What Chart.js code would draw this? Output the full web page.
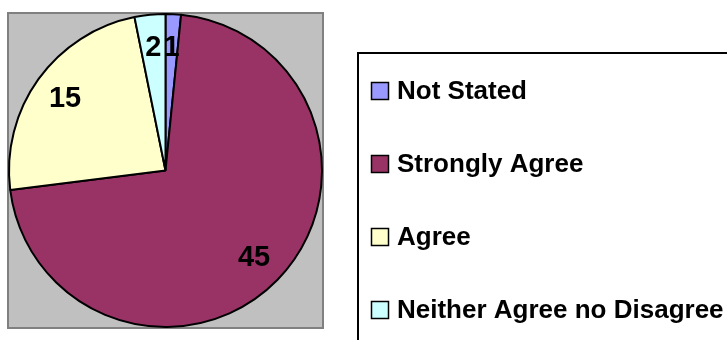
<!DOCTYPE html>
<html>
<head>
<meta charset="utf-8">
<script src="https://cdn.jsdelivr.net/npm/chart.js@4/dist/chart.umd.min.js"></script>
<style>
	html, body { margin: 0; padding: 0; background: #fff; }
	#wrap { width: 727px; height: 340px; position: relative; overflow: hidden; }
</style>
</head>
<body>
<div id="wrap"><canvas id="myChart" width="727" height="340"></canvas></div>
<script>
var categories = ['Not Stated', 'Strongly Agree', 'Agree', 'Neither Agree no Disagree'];
var responses = [1, 45, 15, 2];
var sliceColors = ['#9999FF', '#993366', '#FFFFCC', '#CCFFFF'];

var FONT = '"Liberation Sans", Arial, sans-serif';

// gray plot area behind the pie
var plotArea = {
	id: 'plotArea',
	beforeDraw: function(chart){
		var a = chart.chartArea;
		var ctx = chart.ctx;
		ctx.save();
		ctx.fillStyle = '#C0C0C0';
		ctx.fillRect(a.left, a.top, a.right - a.left, a.bottom - a.top);
		ctx.strokeStyle = '#808080';
		ctx.lineWidth = 2;
		ctx.strokeRect(a.left, a.top, a.right - a.left, a.bottom - a.top);
		ctx.restore();
	}
};

// value labels inside each slice
var sliceLabels = {
	id: 'sliceLabels',
	afterDatasetsDraw: function(chart){
		var ctx = chart.ctx;
		var meta = chart.getDatasetMeta(0);
		ctx.save();
		ctx.font = 'bold 29px ' + FONT;
		ctx.fillStyle = '#000';
		ctx.textAlign = 'center';
		ctx.textBaseline = 'middle';
		meta.data.forEach(function(arc, i){
			var p = arc.getProps(['x', 'y', 'startAngle', 'endAngle', 'outerRadius'], true);
			var mid = (p.startAngle + p.endAngle) / 2;
			var r = p.outerRadius * 0.79;
			ctx.fillText(String(responses[i]), p.x + Math.cos(mid) * r, p.y + Math.sin(mid) * r + 1);
		});
		ctx.restore();
	}
};

// boxed legend on the right
var boxLegend = {
	id: 'boxLegend',
	afterDraw: function(chart){
		var ctx = chart.ctx;
		var left = 358, top = 53;
		ctx.save();
		ctx.strokeStyle = '#000';
		ctx.lineWidth = 2;
		ctx.strokeRect(left, top, 400, 320);
		ctx.font = 'bold 26px ' + FONT;
		ctx.textBaseline = 'middle';
		for (var i = 0; i < categories.length; i++) {
			var cy = 91 + i * 73;
			ctx.fillStyle = sliceColors[i];
			ctx.fillRect(371.5, cy - 8.5, 17, 17);
			ctx.lineWidth = 1.5;
			ctx.strokeStyle = '#000';
			ctx.strokeRect(371.5, cy - 8.5, 17, 17);
			ctx.fillStyle = '#000';
			ctx.fillText(categories[i], 397, cy + 1);
		}
		ctx.restore();
	}
};

var ctx = document.getElementById('myChart').getContext('2d');
var myChart = new Chart(ctx, {
	type: 'pie',
	data: {
		labels: categories,
		datasets: [{
			data: responses,
			backgroundColor: sliceColors,
			borderColor: '#000',
			borderWidth: 2
		}]
	},
	options: {
		responsive: false,
		animation: false,
		layout: {
			padding: { left: 8, top: 13, right: 404, bottom: 12 }
		},
		plugins: {
			legend: { display: false },
			tooltip: { enabled: false }
		}
	},
	plugins: [plotArea, sliceLabels, boxLegend]
});
</script>
</body>
</html>
